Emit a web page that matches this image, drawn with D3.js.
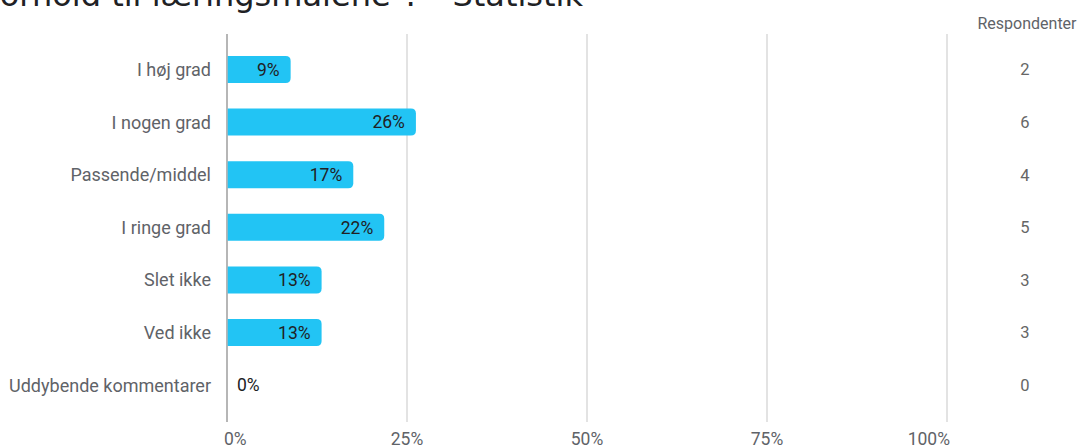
<!DOCTYPE html>
<html>
<head>
<meta charset="utf-8">
<script src="https://cdn.jsdelivr.net/npm/d3@7"></script>
<style>
  html, body { margin: 0; padding: 0; background: #fff; overflow: hidden; }
  svg { display: block; }
</style>
</head>
<body>
<svg id="chart" width="1083" height="446"></svg>
<script>
// ---- data ----
const titleText = 'Hvordan vurderer du dit udbytte i forhold til læringsmålene": – Statistik';
const categories = ["I høj grad", "I nogen grad", "Passende/middel", "I ringe grad", "Slet ikke", "Ved ikke", "Uddybende kommentarer"];
const respondents = [2, 6, 4, 5, 3, 3, 0];
const percentValues = [8.7, 26.1, 17.4, 21.7, 13.0, 13.0, 0];
const percentLabels = ["9%", "26%", "17%", "22%", "13%", "13%", "0%"];
const xTicks = [0, 25, 50, 75, 100];
const xTickLabels = ["0%", "25%", "50%", "75%", "100%"];
const columnHeader = "Respondenter";

// ---- layout ----
const svg = d3.select("#chart");
const x = d3.scaleLinear().domain([0, 100]).range([227, 947]);
const y = d3.scaleBand().domain(categories).range([43.2, 411.4])
  .paddingInner(0.487).paddingOuter(0.2435);

const labelFont = "Roboto, 'Noto Sans', sans-serif";

// title (cropped at top in reference)
svg.append("text")
  .attr("x", 583).attr("y", 6)
  .attr("text-anchor", "end")
  .attr("font-family", "'DejaVu Sans', Verdana, sans-serif")
  .attr("font-size", 32)
  .attr("fill", "#202124")
  .text(titleText);

// gridlines
svg.append("g").selectAll("line").data(xTicks).join("line")
  .attr("x1", d => x(d)).attr("x2", d => x(d))
  .attr("y1", 34).attr("y2", 422)
  .attr("stroke", d => d === 0 ? "#9e9e9e" : "#d0d0d0")
  .attr("stroke-width", d => d === 0 ? 1.5 : 1.2);

// bars with rounded right corners
const r = 5;
function barPath(v, cat) {
  const x0 = x(0) + 0.75, x1 = x(v) + 1, y0 = y(cat), h = y.bandwidth();
  const w = x1 - x0;
  if (v <= 0) return "";
  const rr = Math.min(r, w, h / 2);
  return `M${x0},${y0}H${x1 - rr}Q${x1},${y0} ${x1},${y0 + rr}V${y0 + h - rr}Q${x1},${y0 + h} ${x1 - rr},${y0 + h}H${x0}Z`;
}
svg.append("g").selectAll("path").data(categories).join("path")
  .attr("d", (c, i) => barPath(percentValues[i], c))
  .attr("fill", "#22c4f4");

// percent labels
svg.append("g").selectAll("text").data(categories).join("text")
  .attr("x", (c, i) => percentValues[i] > 0 ? x(percentValues[i]) - 10 : x(0) + 10)
  .attr("y", c => y(c) + y.bandwidth() / 2)
  .attr("dy", "0.36em")
  .attr("text-anchor", (c, i) => percentValues[i] > 0 ? "end" : "start")
  .attr("font-family", labelFont)
  .attr("font-size", 17.5)
  .attr("fill", "#202124")
  .text((c, i) => percentLabels[i]);

// category labels
svg.append("g").selectAll("text").data(categories).join("text")
  .attr("x", 211)
  .attr("y", c => y(c) + y.bandwidth() / 2)
  .attr("dy", "0.36em")
  .attr("text-anchor", "end")
  .attr("font-family", labelFont)
  .attr("font-size", 18)
  .attr("fill", "#5f6368")
  .text(c => c);

// right column
svg.append("text")
  .attr("x", 1027).attr("y", 29)
  .attr("text-anchor", "middle")
  .attr("font-family", labelFont)
  .attr("font-size", 16)
  .attr("fill", "#5f6368")
  .text(columnHeader);
svg.append("g").selectAll("text").data(categories).join("text")
  .attr("x", 1025)
  .attr("y", c => y(c) + y.bandwidth() / 2)
  .attr("dy", "0.36em")
  .attr("text-anchor", "middle")
  .attr("font-family", labelFont)
  .attr("font-size", 16.5)
  .attr("fill", "#666")
  .text((c, i) => respondents[i]);

// x tick labels
svg.append("g").selectAll("text").data(xTicks).join("text")
  .attr("x", (d, i) => i === 0 ? x(d) - 3 : (i === xTicks.length - 1 ? x(d) + 3 : x(d)))
  .attr("y", 445)
  .attr("text-anchor", (d, i) => i === 0 ? "start" : (i === xTicks.length - 1 ? "end" : "middle"))
  .attr("font-family", labelFont)
  .attr("font-size", 17.5)
  .attr("fill", "#5f6368")
  .text((d, i) => xTickLabels[i]);
</script>
</body>
</html>
